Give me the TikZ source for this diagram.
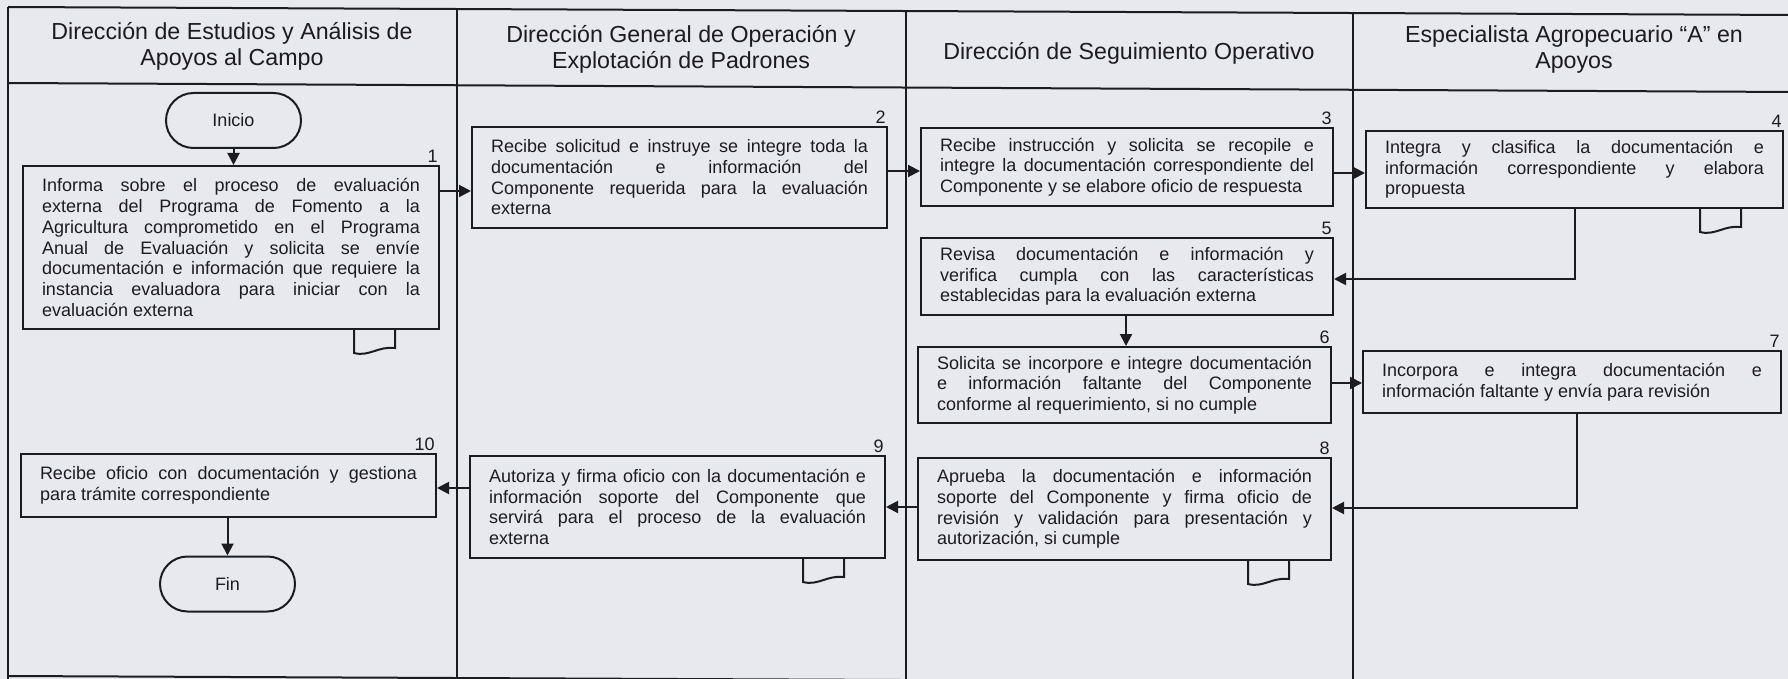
\documentclass[tikz,border=0pt]{standalone}
\usepackage{fontspec}
\setmainfont{Liberation Sans}
\usetikzlibrary{arrows.meta,calc}
\definecolor{bg}{RGB}{232,232,239}
\definecolor{ink}{RGB}{28,28,32}
\newcommand{\jtext}[2]{\parbox{#1}{\tolerance=10000\relax\hbadness=10000\relax\parindent=0pt\relax #2}}
\begin{document}
\begin{tikzpicture}[x=0.5pt,y=-0.5pt,
  line/.style={draw=ink,line width=1pt},
  arr/.style={line,-{Triangle[length=6pt,width=6pt]}},
  box/.style={line,fill=bg,text=ink,inner xsep=9.5pt,inner ysep=2pt,
    font=\fontsize{9}{10.35}\selectfont},
  term/.style={line,fill=bg,text=ink,rounded corners=13.75pt,minimum width=67.5pt,
    minimum height=27.5pt,inner sep=0pt,font=\fontsize{9}{10.35}\selectfont},
  num/.style={anchor=south east,inner sep=1pt,text=ink,font=\fontsize{9}{10}\selectfont},
  hdr/.style={align=center,text=ink,font=\fontsize{11.6}{13}\selectfont},
  docpic/.pic={\draw[line] (0,0) -- (0,23) .. controls (15,27) and (24,16) .. (41,18) -- (41,0);}
]
\useasboundingbox (0,0) rectangle (1788,679);
\fill[bg] (0,0) rectangle (1788,679);
\clip (0,0) rectangle (1788,679);

% frame
\draw[line] (8,7) -- (1795,15);
\draw[line] (8,83) -- (1795,92);
\draw[line] (8,676) -- (1795,684);
\draw[line] (8,7) -- (8,690);
\draw[line] (457,9) -- (457,690);
\draw[line] (906,11) -- (906,690);
\draw[line] (1353,13) -- (1353,690);

% headers
\node[hdr] (h1) at (232,46.5) {Dirección de Estudios y Análisis de\\Apoyos al Campo};
\node[hdr] (h2) at (681,49) {Dirección General de Operación y\\Explotación de Padrones};
\node[hdr] (h3) at (1129,53) {Dirección de Seguimiento Operativo};
\node[hdr] (h4) at (1574,49.5) {Especialista Agropecuario “A” en\\Apoyos};

% terminals
\node[term] (ini) at (233.5,120.5) {Inicio};
\node[term] (fin) at (227.5,584) {Fin};

% process boxes
\node[box,minimum width=208pt,minimum height=81.5pt] (b1) at (231,247.5)
 {\jtext{189pt}{Informa sobre el proceso de evaluación\linebreak externa del Programa de Fomento a la\linebreak Agricultura comprometido en el Programa\linebreak Anual de Evaluación y solicita se envíe\linebreak documentación e información que requiere la\linebreak instancia evaluadora para iniciar con la\linebreak evaluación externa}};
\node[box,minimum width=207.5pt,minimum height=50.5pt] (b2) at (679.5,177.5)
 {\jtext{188.5pt}{Recibe solicitud e instruye se integre toda la\linebreak documentación e información del\linebreak Componente requerida para la evaluación\linebreak externa}};
\node[box,minimum width=206pt,minimum height=39pt] (b3) at (1127,167)
 {\jtext{187pt}{Recibe instrucción y solicita se recopile e\linebreak integre la documentación correspondiente del\linebreak Componente y se elabore oficio de respuesta}};
\node[box,minimum width=208.5pt,minimum height=38.5pt] (b4) at (1574.5,169.5)
 {\jtext{189.5pt}{Integra y clasifica la documentación e\linebreak información correspondiente y elabora\linebreak propuesta}};
\node[box,minimum width=206pt,minimum height=38.5pt] (b5) at (1127,276.5)
 {\jtext{187pt}{Revisa documentación e información y\linebreak verifica cumpla con las características\linebreak establecidas para la evaluación externa}};
\node[box,minimum width=206.5pt,minimum height=38pt] (b6) at (1124.5,385)
 {\jtext{187.5pt}{Solicita se incorpore e integre documentación\linebreak e información faltante del Componente\linebreak conforme al requerimiento, si no cumple}};
\node[box,minimum width=209pt,minimum height=31pt] (b7) at (1572,382)
 {\jtext{190pt}{Incorpora e integra documentación e\linebreak información faltante y envía para revisión}};
\node[box,minimum width=206.5pt,minimum height=51pt] (b8) at (1124.5,509)
 {\jtext{187.5pt}{Aprueba la documentación e información\linebreak soporte del Componente y firma oficio de\linebreak revisión y validación para presentación y\linebreak autorización, si cumple}};
\node[box,minimum width=207.5pt,minimum height=51pt] (b9) at (677.5,507)
 {\jtext{188.5pt}{Autoriza y firma oficio con la documentación e\linebreak información soporte del Componente que\linebreak servirá para el proceso de la evaluación\linebreak externa}};
\node[box,minimum width=207.5pt,minimum height=31.5pt] (b10) at (228.5,485.5)
 {\jtext{188.5pt}{Recibe oficio con documentación y gestiona\linebreak para trámite correspondiente}};

% step numbers
\node[num] (n1) at (b1.north east) {1};
\node[num] (n2) at (b2.north east) {2};
\node[num] (n3) at (b3.north east) {3};
\node[num] (n4) at (b4.north east) {4};
\node[num] (n5) at (b5.north east) {5};
\node[num] (n6) at (b6.north east) {6};
\node[num] (n7) at (b7.north east) {7};
\node[num] (n8) at (b8.north east) {8};
\node[num] (n9) at (b9.north east) {9};
\node[num] (n10) at (b10.north east) {10};

% document symbols
\pic at ($(b1.south east)+(-86,0)$) {docpic};
\pic at ($(b4.south east)+(-84,0)$) {docpic};
\pic at ($(b9.south east)+(-83,0)$) {docpic};
\pic at ($(b8.south east)+(-84,0)$) {docpic};

% connector levels
\coordinate (y12) at (0,191);
\coordinate (y23) at (0,171);
\coordinate (y34) at (0,173);
\coordinate (c45) at (1575,279);
\coordinate (x56) at (1126,0);
\coordinate (y67) at (0,383);
\coordinate (c78) at (1577,508);
\coordinate (y89) at (0,507);
\coordinate (y910) at (0,488);

% connectors
\draw[arr] (ini.south) -- (ini.south |- b1.north);
\draw[arr] (b1.east |- y12) -- (b2.west |- y12);
\draw[arr] (b2.east |- y23) -- (b3.west |- y23);
\draw[arr] (b3.east |- y34) -- (b4.west |- y34);
\draw[arr] (b4.south -| c45) -- (c45) -- (b5.east |- c45);
\draw[arr] (b5.south -| x56) -- (b6.north -| x56);
\draw[arr] (b6.east |- y67) -- (b7.west |- y67);
\draw[arr] (b7.south -| c78) -- (c78) -- (b8.east |- c78);
\draw[arr] (b8.west |- y89) -- (b9.east |- y89);
\draw[arr] (b9.west |- y910) -- (b10.east |- y910);
\draw[arr] (b10.south -| fin.north) -- (fin.north);
\end{tikzpicture}
\end{document}
